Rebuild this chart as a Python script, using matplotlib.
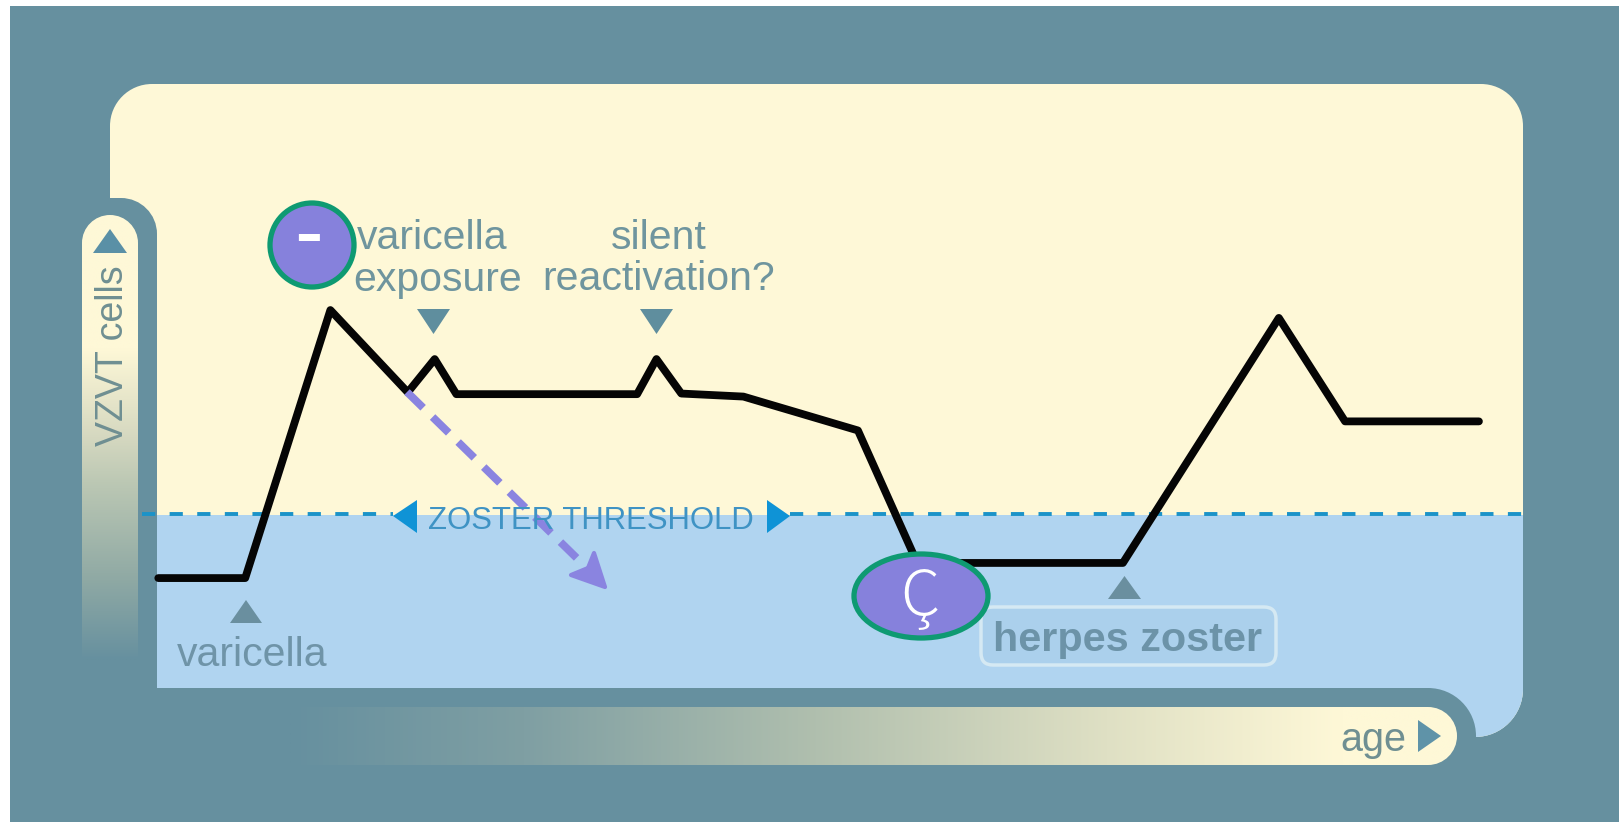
import numpy as np
import matplotlib
matplotlib.use("Agg")
import matplotlib.pyplot as plt
from matplotlib.patches import Ellipse, FancyBboxPatch, PathPatch, Polygon, Rectangle
from matplotlib.path import Path
from matplotlib.colors import to_rgb

# Data (age and VZVT level in relative units)
age = [0.6, 6.9, 13.07, 18.68, 20.63, 22.2, 35.3, 36.7, 38.5, 43.0, 51.3, 55.6, 70.5, 81.8, 86.6, 96.3]
vzvt = [18.5, 18.5, 62.8, 49.2, 54.7, 48.9, 48.9, 54.7, 49.0, 48.5, 42.9, 21.0, 21.0, 61.5, 44.4, 44.4]
threshold = 29.1
threshold_left = [-0.58, 17.6]
threshold_right = [46.4, 99.5]

W, H = 1619, 822
BG = "#66909f"
CREAM = "#fef8d7"
BLUE = "#b0d4f0"
TXT = "#6f959e"
TRI = "#5f8e9e"
PURPLE = "#8a84e0"
plt.rcParams["font.family"] = ["Liberation Sans", "DejaVu Sans"]

fig = plt.figure(figsize=(W / 100, H / 100), dpi=100, facecolor="white")


def px_axes(z):
    a = fig.add_axes([0, 0, 1, 1], zorder=z)
    a.set_xlim(0, W)
    a.set_ylim(H, 0)
    a.axis("off")
    return a


def rounded(points):
    """Closed path from (x, y, radius) corners, with circular-looking arcs."""
    k = 0.5523
    verts, codes = [], []
    n = len(points)
    for i, (x, y, r) in enumerate(points):
        p = np.array([x, y], float)
        prev = np.array(points[i - 1][:2], float)
        nxt = np.array(points[(i + 1) % n][:2], float)
        up = (prev - p) / np.linalg.norm(prev - p)
        un = (nxt - p) / np.linalg.norm(nxt - p)
        a = p + up * r
        b = p + un * r
        verts.append(a)
        codes.append(Path.MOVETO if i == 0 else Path.LINETO)
        if r > 0:
            verts += [a - up * r * k, b - un * r * k, b]
            codes += [Path.CURVE4, Path.CURVE4, Path.CURVE4]
    verts.append(verts[0])
    codes.append(Path.CLOSEPOLY)
    return Path(verts, codes)


bg = px_axes(1)
bg.add_patch(Rectangle((10, 6), W - 10, H - 6, fc=BG, ec="none"))

panel = rounded([(110, 84, 42), (1523, 84, 42), (1523, 737, 48), (110, 737, 0)])
bg.add_patch(PathPatch(panel, fc=CREAM, ec="none"))
blue = Rectangle((100, 515), 1440, 230, fc=BLUE, ec="none")
bg.add_patch(blue)
blue.set_clip_path(PathPatch(panel, transform=bg.transData))

bg.add_patch(PathPatch(rounded([(10, 198, 0), (157, 198, 36), (157, 822, 0), (10, 822, 0)]), fc=BG, ec="none"))
bg.add_patch(PathPatch(rounded([(10, 688, 0), (1476, 688, 48), (1476, 822, 0), (10, 822, 0)]), fc=BG, ec="none"))


def gradient(stops, n=400):
    pos = [s[0] for s in stops]
    cols = np.array([to_rgb(s[1]) for s in stops])
    t = np.linspace(0, 1, n)
    return np.stack([np.interp(t, pos, cols[:, k]) for k in range(3)], axis=1)


# Vertical axis bar
vg = gradient([(0, CREAM), (0.30, CREAM), (0.50, "#d5d8c0"), (0.60, "#bcc8b4"), (0.82, "#8fa9a4"), (1, BG)])[:, None, :]
im = bg.imshow(vg, extent=(82, 138, 660, 215), aspect="auto", interpolation="bilinear", zorder=3)
im.set_clip_path(PathPatch(rounded([(82, 215, 28), (138, 215, 28), (138, 660, 0), (82, 660, 0)]), transform=bg.transData))

# Horizontal axis bar
hg = gradient([(0, BG), (0.20, "#7f9fa3"), (0.45, "#b0bfae"), (0.70, "#dfe0c4"), (0.90, CREAM), (1, CREAM)])[None, :, :]
im = bg.imshow(hg, extent=(290, 1457, 765, 707), aspect="auto", interpolation="bilinear", zorder=3)
im.set_clip_path(PathPatch(rounded([(290, 707, 0), (1457, 707, 29), (1457, 765, 29), (290, 765, 0)]), transform=bg.transData))
bg.set_xlim(0, W)
bg.set_ylim(H, 0)

# Data axes: curve and threshold
plot_ax = fig.add_axes([150 / W, 1 - 690 / H, 1380 / W, 605 / H], zorder=2)
plot_ax.set_xlim(0, 100)
plot_ax.set_ylim(0, 100)
plot_ax.axis("off")
for seg in (threshold_left, threshold_right):
    plot_ax.plot(seg, [threshold, threshold], color="#1b93c8", lw=2.8,
                 dashes=(3.4, 3.7), clip_on=False, dash_capstyle="butt")
plot_ax.plot(age, vzvt, color="#050505", lw=5.6, solid_joinstyle="round",
             solid_capstyle="round", clip_on=False)

# Overlay: annotations
ov = px_axes(3)


def tri(pts, color=TRI):
    ov.add_patch(Polygon(pts, closed=True, fc=color, ec="none"))


tri([(93, 253), (127, 253), (110, 229)], "#5a90a6")
tri([(417, 309), (450, 309), (433.5, 334)])
tri([(640, 309), (673, 309), (656.5, 334)])
tri([(230, 623), (262, 623), (246, 600)], "#6a8f9f")
tri([(1108, 599), (1141, 599), (1124.5, 576)], "#6a8f9f")
tri([(417, 500), (417, 533), (393, 516)], "#0f93d6")
tri([(767, 500), (767, 533), (790, 516)], "#0f93d6")
tri([(1418, 720), (1418, 752), (1441, 736)], "#5f93a8")

kw = dict(ha="center", va="center", color=TXT)
ov.text(432, 238, "varicella", fontsize=29.5, **kw)
ov.text(438, 280, "exposure", fontsize=29.5, **kw)
ov.text(659, 238, "silent", fontsize=29.5, **kw)
ov.text(659, 279, "reactivation?", fontsize=29.5, **kw)
ov.text(252, 655, "varicella", fontsize=29.5, ha="center", va="center", color="#6f94a8")
ov.text(113, 356, "VZVT cells", fontsize=27, rotation=90, ha="center", va="center", color="#6f8f92")
ov.text(1373, 740, "age", fontsize=28.5, ha="center", va="center", color="#6f8f92")
ov.text(591, 521, "ZOSTER THRESHOLD", fontsize=22.4, ha="center", va="center", color="#3f93c4")

ov.add_patch(FancyBboxPatch((992, 618), 273, 36, boxstyle="round,pad=11,rounding_size=12",
                            fc="#abd0ec", ec="#d5e9f3", lw=2.5))
ov.text(1128, 640, "herpes zoster", fontsize=29.8, fontweight="bold", ha="center", va="center", color="#6c93a8")

# Purple dashed arrow
ov.plot([407, 590], [392, 571], color=PURPLE, lw=5.6, dashes=(2.9, 1.7), dash_capstyle="butt")
ov.add_patch(Polygon([(605, 587), (594, 553), (588, 568), (571, 575)], closed=True,
                     fc=PURPLE, ec=PURPLE, lw=3, joinstyle="round"))

# Circles
ov.add_patch(Ellipse((312, 245), 84, 84, fc="#8681dc", ec="#0e9a72", lw=3.8))
ov.text(308, 238, "-", fontsize=62, color="white", ha="center", va="center")
ov.add_patch(Ellipse((921, 596), 134, 84, fc="#8681dc", ec="#0e9a72", lw=3.8))
ov.text(920, 598, "Ç", fontsize=45, color="white", ha="center", va="center",
        family=["Noto Sans CJK JP", "DejaVu Sans"], fontweight="light")

fig.savefig("out.png", dpi=100, facecolor="white")
